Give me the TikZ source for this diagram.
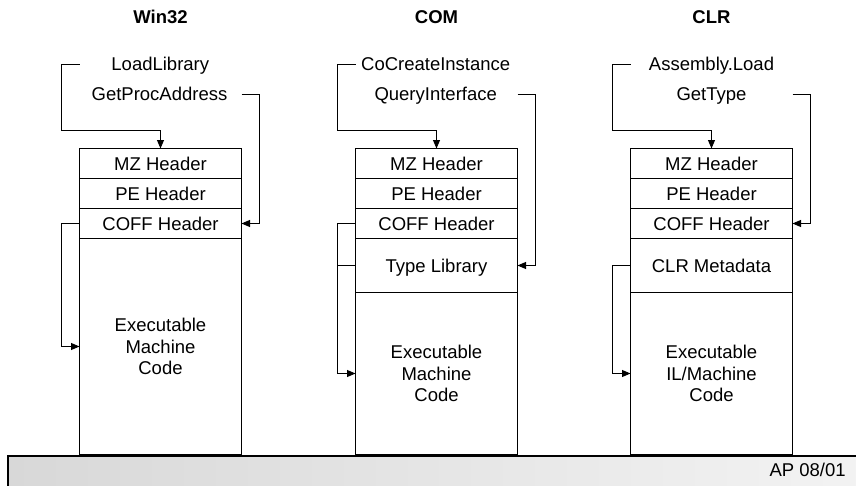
\documentclass[tikz,border=0pt]{standalone}
\usepackage{fontspec}
\setmainfont{Liberation Sans}
\usetikzlibrary{arrows.meta,calc}
\definecolor{barleft}{RGB}{216,216,216}
\definecolor{barright}{RGB}{243,243,243}
\begin{document}
\begin{tikzpicture}[x=1pt,y=-1pt,
  font=\fontsize{18.5}{21.5}\selectfont,
  every node/.style={inner sep=0pt,outer sep=0pt},
  cellbase/.style={draw,line width=1.1pt,minimum width=162pt,anchor=north},
  cell/.style={cellbase,minimum height=30pt,text height=13.3pt,text depth=0pt},
  bigcell/.style={cellbase,align=center},
  call/.style={text height=13.3pt,text depth=0pt},
  title/.style={font=\fontsize{18.5}{21.5}\selectfont\bfseries,text height=13.3pt,text depth=0pt},
  conn/.style={line width=0.9pt},
  arr/.style={conn,-{Triangle[length=8.5pt,width=7pt]}}]
\useasboundingbox (0,0) rectangle (856,485);

% footer bar
\shade[left color=barleft,right color=barright] (8,456) rectangle (870,495);
\draw[line width=1.3pt] (870,456) -- (8,456) -- (8,495);
\node[call,anchor=east] (stamp) at (845.7,470) {AP 08/01};

% ---------------- Win32 ----------------
\node[title] (t1) at (160.5,17) {Win32};
\node[call] (a1) at (160.3,64) {LoadLibrary};
\node[call] (b1) at (159.5,94) {GetProcAddress};
\node[cell] (mz1) at (160.5,148.5) {MZ Header};
\node[cell] (pe1) at (mz1.south) {PE Header};
\node[cell] (coff1) at (pe1.south) {COFF Header};
\node[bigcell,minimum height=216pt] (ex1) at (coff1.south) {Executable\\Machine\\Code};
\draw[arr] (mz1.west |- a1) -- ++(-18,0) |- ([yshift=18pt]mz1.north) -- (mz1.north);
\draw[arr] (mz1.east |- b1) -- ++(18,0) |- (coff1.east);
\draw[arr] (coff1.west) -- ++(-18,0) |- (ex1.west);

% ---------------- COM ----------------
\node[title] (t2) at (436.5,17) {COM};
\node[call] (a2) at (435.7,64) {CoCreateInstance};
\node[call] (b2) at (435.7,94) {QueryInterface};
\node[cell] (mz2) at (436.5,148.5) {MZ Header};
\node[cell] (pe2) at (mz2.south) {PE Header};
\node[cell] (coff2) at (pe2.south) {COFF Header};
\node[cell,minimum height=54pt] (tl2) at (coff2.south) {Type Library};
\node[bigcell,minimum height=162pt] (ex2) at (tl2.south) {Executable\\Machine\\Code};
\draw[arr] (mz2.west |- a2) -- ++(-18,0) |- ([yshift=18pt]mz2.north) -- (mz2.north);
\draw[arr] (mz2.east |- b2) -- ++(18,0) |- (tl2.east);
\draw[arr] (coff2.west) -- ++(-18,0) |- (ex2.west);
\draw[conn] (tl2.west) -- ++(-18,0);

% ---------------- CLR ----------------
\node[title] (t3) at (711.5,17) {CLR};
\node[call] (a3) at (711.5,64) {Assembly.Load};
\node[call] (b3) at (711.5,94) {GetType};
\node[cell] (mz3) at (711.5,148.5) {MZ Header};
\node[cell] (pe3) at (mz3.south) {PE Header};
\node[cell] (coff3) at (pe3.south) {COFF Header};
\node[cell,minimum height=54pt] (md3) at (coff3.south) {CLR Metadata};
\node[bigcell,minimum height=162pt] (ex3) at (md3.south) {Executable\\IL/Machine\\Code};
\draw[arr] (mz3.west |- a3) -- ++(-18,0) |- ([yshift=18pt]mz3.north) -- (mz3.north);
\draw[arr] (mz3.east |- b3) -- ++(18,0) |- (coff3.east);
\draw[arr] (md3.west) -- ++(-18,0) |- (ex3.west);
\end{tikzpicture}
\end{document}
